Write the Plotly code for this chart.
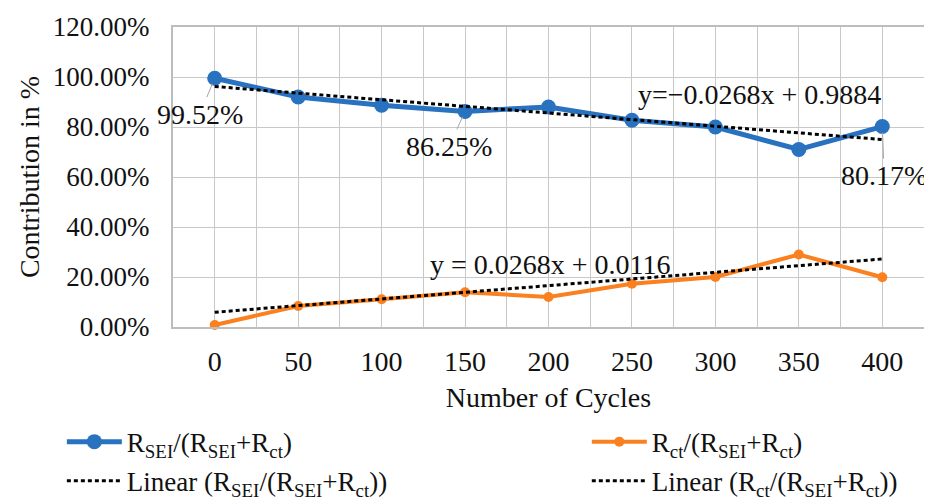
import plotly.graph_objects as go

# ---- data ----
cycles = [0, 50, 100, 150, 200, 250, 300, 350, 400]
sei_pct = [99.52, 92.0, 88.7, 86.25, 88.0, 82.7, 80.0, 71.0, 80.17]
ct_pct = [0.8, 8.4, 11.1, 13.9, 12.0, 17.3, 20.0, 29.0, 19.9]
trend_x = [0, 400]
trend_sei = [96.2, 75.0]
trend_ct = [5.9, 27.2]
labelled_idx = [0, 3, 8]
y_ticks = [0, 20, 40, 60, 80, 100, 120]
y_tick_text = [f"{v:.2f}%" for v in y_ticks]

BLUE = "rgb(40,114,192)"
ORANGE = "rgb(250,128,32)"
FONT = "Liberation Serif"
FS = 28
SUB_SEI = "R<sub>SEI</sub>/(R<sub>SEI</sub>+R<sub>ct</sub>)"
SUB_CT = "R<sub>ct</sub>/(R<sub>SEI</sub>+R<sub>ct</sub>)"

fig = go.Figure()
fig.add_trace(go.Scatter(
    x=cycles, y=sei_pct, mode="lines+markers", name=SUB_SEI,
    legend="legend", legendgroup="a",
    line=dict(color=BLUE, width=5), marker=dict(color=BLUE, size=15),
    cliponaxis=False))
fig.add_trace(go.Scatter(
    x=cycles, y=ct_pct, mode="lines+markers", name=SUB_CT,
    legend="legend2", legendgroup="b",
    line=dict(color=ORANGE, width=4), marker=dict(color=ORANGE, size=10),
    cliponaxis=False))
fig.add_trace(go.Scatter(
    x=trend_x, y=trend_sei, mode="lines", name="Linear (" + SUB_SEI + ")",
    legend="legend", legendgroup="c",
    line=dict(color="black", width=3, dash="4px,3px")))
fig.add_trace(go.Scatter(
    x=trend_x, y=trend_ct, mode="lines", name="Linear (" + SUB_CT + ")",
    legend="legend2", legendgroup="d",
    line=dict(color="black", width=3, dash="4px,3px")))

# data labels with leader lines
label_offsets = {0: (-15, 36), 3: (-16, 35), 8: (2, 49)}
for i in labelled_idx:
    ax, ay = label_offsets[i]
    fig.add_annotation(
        x=cycles[i], y=sei_pct[i], text=f"{sei_pct[i]:.2f}%",
        showarrow=True, arrowhead=0, arrowwidth=1, arrowcolor="#a6a6a6",
        standoff=6, ax=ax, ay=ay,
        font=dict(family=FONT, size=FS, color="#111"))

# trendline equations
fig.add_annotation(x=326.7, y=93.1, text="y=\u22120.0268x + 0.9884",
                   showarrow=False, font=dict(family=FONT, size=FS, color="#111"))
fig.add_annotation(x=200.9, y=25.1, text="y = 0.0268x + 0.0116",
                   showarrow=False, font=dict(family=FONT, size=FS, color="#111"))

leg_common = dict(
    orientation="v", yanchor="top", xanchor="left", itemwidth=55,
    font=dict(family=FONT, size=27, color="#111"),
    tracegroupgap=1, bgcolor="rgba(0,0,0,0)")

fig.update_layout(
    width=924, height=493,
    margin=dict(l=165, r=8, t=19, b=174, autoexpand=False),
    paper_bgcolor="white", plot_bgcolor="white",
    font=dict(family=FONT, size=FS, color="#111"),
    showlegend=True,
    legend=dict(x=-0.148, y=-0.302, **leg_common),
    legend2=dict(x=0.551, y=-0.302, **leg_common),
)
fig.update_xaxes(
    range=[-25, 425], tickvals=cycles, ticktext=[str(c) for c in cycles],
    showgrid=True, gridcolor="#c8c8c8", gridwidth=1.3,
    minor=dict(tick0=-25, dtick=50, showgrid=True, gridcolor="#c8c8c8", gridwidth=1.3),
    showline=True, linecolor="#bdbdbd", linewidth=2, mirror=True,
    ticks="", zeroline=False, automargin=False, ticklabelstandoff=8,
    title=dict(text="Number of Cycles", standoff=12, font=dict(family=FONT, size=FS)),
    tickfont=dict(family=FONT, size=FS),
)
fig.update_yaxes(
    range=[0, 120], tickvals=y_ticks, ticktext=y_tick_text,
    showgrid=True, gridcolor="#c8c8c8", gridwidth=1.3,
    showline=True, linecolor="#bdbdbd", linewidth=2, mirror=True,
    ticks="", zeroline=False, automargin=False, ticklabelstandoff=16,
    title=dict(text="Contribution in %", standoff=5, font=dict(family=FONT, size=FS)),
    tickfont=dict(family=FONT, size=27),
)

fig.write_html("out.html")
